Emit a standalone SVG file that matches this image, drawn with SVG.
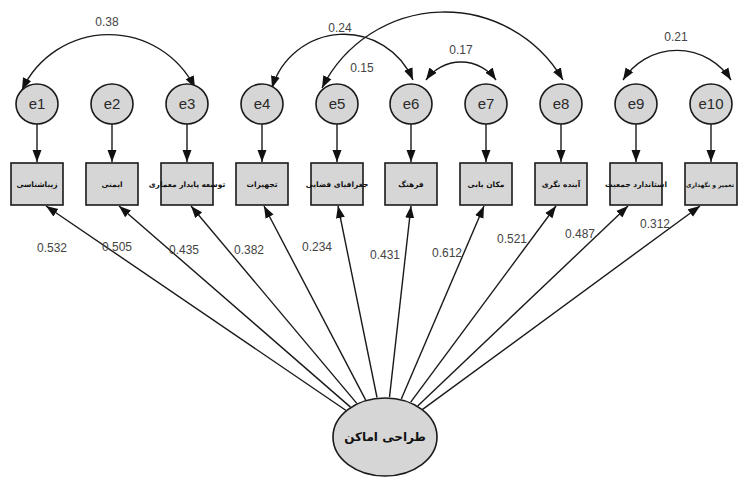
<svg xmlns="http://www.w3.org/2000/svg" width="738" height="477" viewBox="0 0 738 477">
<style>
.bg{fill:#ffffff}
.err{fill:#d6d6d6;stroke:#1a1a1a;stroke-width:1.6}
.box{fill:#d6d6d6;stroke:#1a1a1a;stroke-width:1.6}
.lat{fill:#d6d6d6;stroke:#1a1a1a;stroke-width:1.6}
.et{font-family:"Liberation Sans",Arial,sans-serif;font-size:15px;fill:#2a2a2a;text-anchor:middle}
.bt{font-family:"DejaVu Sans",sans-serif;font-size:7.5px;font-weight:bold;fill:#111;text-anchor:middle}
.lt{font-family:"DejaVu Sans",sans-serif;font-size:12px;font-weight:bold;fill:#111;text-anchor:middle}
.num{font-family:"Liberation Sans",Arial,sans-serif;font-size:12px;fill:#444;text-anchor:middle}
.ln{fill:none;stroke:#1a1a1a;stroke-width:1.4}
</style>
<defs>
<marker id="ah" markerUnits="userSpaceOnUse" markerWidth="13" markerHeight="10" refX="12" refY="4.5" orient="auto-start-reverse" viewBox="0 0 13 9">
<path d="M0,0 L12,4.5 L0,9 z" fill="#111"/>
</marker>
</defs>
<rect class="bg" x="0" y="0" width="738" height="477"/>

<g id="connectors">
<line class="ln" x1="37" y1="124" x2="37" y2="162" marker-end="url(#ah)"/>
<line class="ln" x1="112" y1="124" x2="112" y2="162" marker-end="url(#ah)"/>
<line class="ln" x1="187" y1="124" x2="187" y2="162" marker-end="url(#ah)"/>
<line class="ln" x1="262" y1="124" x2="262" y2="162" marker-end="url(#ah)"/>
<line class="ln" x1="337" y1="124" x2="337" y2="162" marker-end="url(#ah)"/>
<line class="ln" x1="411" y1="124" x2="411" y2="162" marker-end="url(#ah)"/>
<line class="ln" x1="486" y1="124" x2="486" y2="162" marker-end="url(#ah)"/>
<line class="ln" x1="561" y1="124" x2="561" y2="162" marker-end="url(#ah)"/>
<line class="ln" x1="636" y1="124" x2="636" y2="162" marker-end="url(#ah)"/>
<line class="ln" x1="711" y1="124" x2="711" y2="162" marker-end="url(#ah)"/>
<path class="ln" d="M22,90 A96,96 0 0 1 195,88" marker-start="url(#ah)" marker-end="url(#ah)"/>
<path class="ln" d="M272,88 A75,75 0 0 1 413,80" marker-start="url(#ah)" marker-end="url(#ah)"/>
<path class="ln" d="M322,88 A137,137 0 0 1 563,80" marker-start="url(#ah)" marker-end="url(#ah)"/>
<path class="ln" d="M426,80 A43,43 0 0 1 496,80" marker-start="url(#ah)" marker-end="url(#ah)"/>
<path class="ln" d="M623,80 A64,64 0 0 1 731,80" marker-start="url(#ah)" marker-end="url(#ah)"/>
<line class="ln" x1="346.1" y1="410.5" x2="46" y2="206" marker-end="url(#ah)"/>
<line class="ln" x1="350.5" y1="407.1" x2="119" y2="206" marker-end="url(#ah)"/>
<line class="ln" x1="356.8" y1="403.4" x2="191" y2="206" marker-end="url(#ah)"/>
<line class="ln" x1="365.6" y1="399.9" x2="264" y2="206" marker-end="url(#ah)"/>
<line class="ln" x1="377" y1="397.5" x2="338" y2="206" marker-end="url(#ah)"/>
<line class="ln" x1="389.5" y1="397.2" x2="411" y2="206" marker-end="url(#ah)"/>
<line class="ln" x1="401.3" y1="399" x2="484" y2="206" marker-end="url(#ah)"/>
<line class="ln" x1="410.7" y1="402.2" x2="556" y2="206" marker-end="url(#ah)"/>
<line class="ln" x1="417.7" y1="405.9" x2="628" y2="206" marker-end="url(#ah)"/>
<line class="ln" x1="422.6" y1="409.4" x2="700" y2="206" marker-end="url(#ah)"/>
<text class="num" x="107" y="26">0.38</text>
<text class="num" x="340" y="32">0.24</text>
<text class="num" x="362" y="72">0.15</text>
<text class="num" x="461" y="54">0.17</text>
<text class="num" x="676" y="41">0.21</text>
<text class="num" x="52" y="252">0.532</text>
<text class="num" x="117" y="251">0.505</text>
<text class="num" x="184" y="254">0.435</text>
<text class="num" x="249" y="254">0.382</text>
<text class="num" x="317" y="251">0.234</text>
<text class="num" x="385" y="259">0.431</text>
<text class="num" x="447" y="257">0.612</text>
<text class="num" x="512" y="243">0.521</text>
<text class="num" x="580" y="238">0.487</text>
<text class="num" x="655" y="228">0.312</text>
</g>

<g id="e1"><ellipse class="err" cx="37" cy="104" rx="21" ry="20"/><text class="et" x="37" y="109">e1</text></g>
<g id="e2"><ellipse class="err" cx="112" cy="104" rx="21" ry="20"/><text class="et" x="112" y="109">e2</text></g>
<g id="e3"><ellipse class="err" cx="187" cy="104" rx="21" ry="20"/><text class="et" x="187" y="109">e3</text></g>
<g id="e4"><ellipse class="err" cx="262" cy="104" rx="21" ry="20"/><text class="et" x="262" y="109">e4</text></g>
<g id="e5"><ellipse class="err" cx="337" cy="104" rx="21" ry="20"/><text class="et" x="337" y="109">e5</text></g>
<g id="e6"><ellipse class="err" cx="411" cy="104" rx="21" ry="20"/><text class="et" x="411" y="109">e6</text></g>
<g id="e7"><ellipse class="err" cx="486" cy="104" rx="21" ry="20"/><text class="et" x="486" y="109">e7</text></g>
<g id="e8"><ellipse class="err" cx="561" cy="104" rx="21" ry="20"/><text class="et" x="561" y="109">e8</text></g>
<g id="e9"><ellipse class="err" cx="636" cy="104" rx="21" ry="20"/><text class="et" x="636" y="109">e9</text></g>
<g id="e10"><ellipse class="err" cx="711" cy="104" rx="21" ry="20"/><text class="et" x="711" y="109">e10</text></g>

<g id="v1"><rect class="box" x="11" y="163" width="52" height="42"/><text class="bt" x="37" y="187">زیباشناسی</text></g>
<g id="v2"><rect class="box" x="86" y="163" width="52" height="42"/><text class="bt" x="112" y="187">ایمنی</text></g>
<g id="v3"><rect class="box" x="161" y="163" width="52" height="42"/><text class="bt" x="187" y="187">توسعه پایدار معماری</text></g>
<g id="v4"><rect class="box" x="236" y="163" width="52" height="42"/><text class="bt" x="262" y="187">تجهیزات</text></g>
<g id="v5"><rect class="box" x="311" y="163" width="52" height="42"/><text class="bt" x="337" y="187">جغرافیای فضایی</text></g>
<g id="v6"><rect class="box" x="385" y="163" width="52" height="42"/><text class="bt" x="411" y="187">فرهنگ</text></g>
<g id="v7"><rect class="box" x="460" y="163" width="52" height="42"/><text class="bt" x="486" y="187">مکان یابی</text></g>
<g id="v8"><rect class="box" x="535" y="163" width="52" height="42"/><text class="bt" x="561" y="187">آینده نگری</text></g>
<g id="v9"><rect class="box" x="610" y="163" width="52" height="42"/><text class="bt" x="636" y="187">استاندارد جمعیت</text></g>
<g id="v10"><rect class="box" x="685" y="163" width="52" height="42"/><text class="bt" x="710" y="187" style="font-size:6px">تعمیر و نگهداری</text></g>

<g id="latent"><ellipse class="lat" cx="385" cy="437" rx="52" ry="39"/><text class="lt" x="385" y="441">طراحی اماکن</text></g>
</svg>
